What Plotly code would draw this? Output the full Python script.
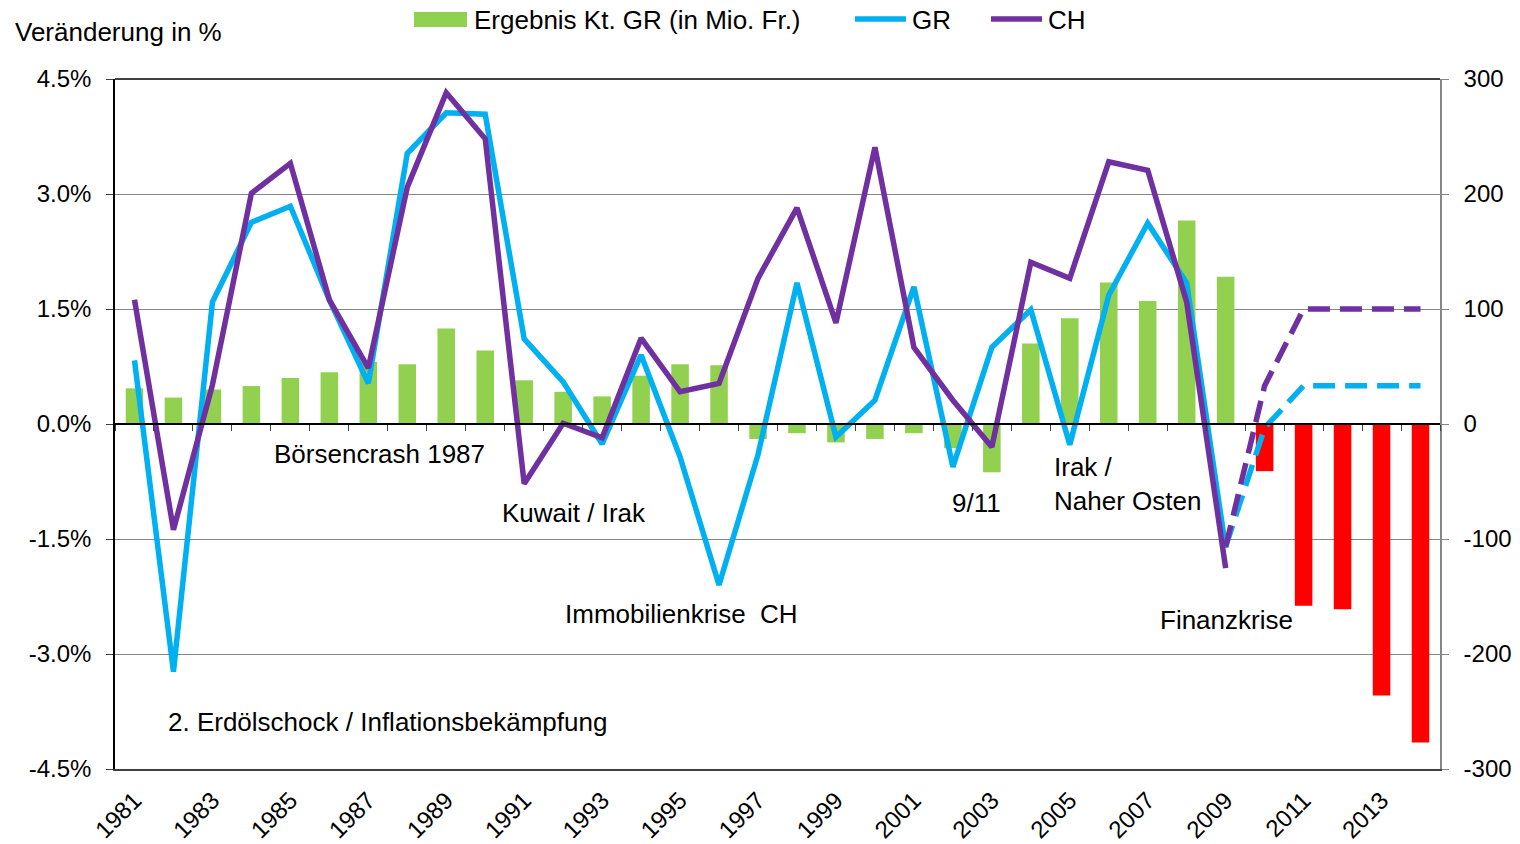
import plotly.graph_objects as go

# ---- data ----
years_hist = list(range(1981, 2010))
years_fc = list(range(2009, 2015))
years_bar_fc = list(range(2010, 2015))

ergebnis = [31, 23, 30, 33, 40, 45, 54, 52, 83, 64, 38, 28, 24, 42, 52, 51,
            -13, -8, -16, -13, -8, -21, -42, 70, 92, 123, 107, 177, 128]
ergebnis_fc = [-41, -158, -161, -236, -277]

gr = [0.83, -3.23, 1.59, 2.63, 2.84, 1.62, 0.53, 3.53, 4.06, 4.04, 1.11, 0.55,
      -0.26, 0.90, -0.43, -2.10, -0.40, 1.84, -0.17, 0.31, 1.79, -0.56, 1.00,
      1.49, -0.27, 1.68, 2.62, 1.84, -1.62]
ch = [1.62, -1.38, 0.51, 3.01, 3.40, 1.62, 0.73, 3.09, 4.32, 3.72, -0.78, 0.01,
      -0.18, 1.12, 0.42, 0.53, 1.90, 2.82, 1.32, 3.61, 1.00, 0.31, -0.30, 2.11,
      1.90, 3.42, 3.31, 1.59, -1.88]
gr_fc = [-1.60, -0.05, 0.50, 0.50, 0.50, 0.50]
ch_fc = [-1.60, 0.50, 1.50, 1.50, 1.50, 1.50]

tick_years = list(range(1981, 2015, 2))
left_ticks = [-4.5, -3.0, -1.5, 0.0, 1.5, 3.0, 4.5]
right_ticks = [-300, -200, -100, 0, 100, 200, 300]

legend_labels = ["Ergebnis Kt. GR (in Mio. Fr.)", "GR", "CH"]

annotations_txt = [
    ("Börsencrash 1987", 1984.53, -0.39),
    ("Kuwait / Irak", 1990.38, -1.16),
    ("Immobilienkrise  CH", 1992.0, -2.48),
    ("2. Erdölschock / Inflationsbekämpfung", 1981.81, -3.89),
    ("9/11", 2001.93, -1.03),
    ("Irak /<br>Naher Osten", 2004.54, -0.78),
    ("Finanzkrise", 2007.26, -2.56),
]

GREEN = "#92D050"
RED = "#FF0000"
BLUE = "#00B0F0"
PURPLE = "#7030A0"
FONT = "Liberation Sans, Arial, sans-serif"

W, H = 1520, 844
ml, mr, mt, mb = 115, 80, 79, 75
pw, ph = W - ml - mr, H - mt - mb


def px(xp):
    return (xp - ml) / pw


def py(yp):
    return 1 - (yp - mt) / ph


fig = go.Figure()

LW = 5.5

# bars on primary y (right side), lines on y2 (left side, drawn above)
fig.add_trace(go.Bar(x=years_hist, y=ergebnis, name=legend_labels[0],
                     marker=dict(color=GREEN, line=dict(width=0)), width=0.45,
                     yaxis="y", xaxis="x", showlegend=False))
fig.add_trace(go.Bar(x=years_bar_fc, y=ergebnis_fc, name="Prognose",
                     marker=dict(color=RED, line=dict(width=0)), width=0.45,
                     showlegend=False, yaxis="y", xaxis="x"))
fig.add_trace(go.Scatter(x=years_hist, y=gr, name=legend_labels[1], mode="lines",
                         line=dict(color=BLUE, width=LW), yaxis="y2", showlegend=False))
fig.add_trace(go.Scatter(x=years_hist, y=ch, name=legend_labels[2], mode="lines",
                         line=dict(color=PURPLE, width=LW), yaxis="y2", showlegend=False))
fig.add_trace(go.Scatter(x=years_fc, y=gr_fc, name="GR Prognose", mode="lines",
                         line=dict(color=BLUE, width=LW, dash="22px,10px"),
                         yaxis="y2", showlegend=False))
fig.add_trace(go.Scatter(x=years_fc, y=ch_fc, name="CH Prognose", mode="lines",
                         line=dict(color=PURPLE, width=LW, dash="22px,10px"),
                         yaxis="y2", showlegend=False))
# helper trace so that the category-tick axis at zero is rendered
fig.add_trace(go.Scatter(x=[None], y=[None], xaxis="x2", yaxis="y2",
                         showlegend=False, hoverinfo="skip"))

annots = []
for txt, xv, yv in annotations_txt:
    annots.append(dict(text=txt, x=xv, y=yv, xref="x", yref="y2",
                       xanchor="left", yanchor="middle", showarrow=False,
                       align="left", font=dict(size=26, color="black", family=FONT)))
annots.append(dict(text="Veränderung in %", x=px(13), y=py(32), xref="paper", yref="paper",
                   showarrow=False, xanchor="left", yanchor="middle",
                   font=dict(size=26, color="black", family=FONT)))

# custom legend (keys drawn in paper space, labels as real text)
shapes = []
shapes.append(dict(type="rect", xref="paper", yref="paper",
                   x0=px(414), x1=px(467), y0=py(27), y1=py(12),
                   fillcolor=GREEN, line=dict(width=0)))
shapes.append(dict(type="line", xref="paper", yref="paper",
                   x0=px(855), x1=px(906), y0=py(19), y1=py(19),
                   line=dict(color=BLUE, width=LW)))
shapes.append(dict(type="line", xref="paper", yref="paper",
                   x0=px(991), x1=px(1042), y0=py(19), y1=py(19),
                   line=dict(color=PURPLE, width=LW)))
for lbl, xp in zip(legend_labels, [472, 910, 1046]):
    annots.append(dict(text=lbl, x=px(xp), y=py(20), xref="paper", yref="paper",
                       showarrow=False, xanchor="left", yanchor="middle",
                       font=dict(size=26, color="black", family=FONT)))

# dark top border line along 4.5% (styling)
shapes.append(dict(type="line", xref="paper", yref="paper", x0=0, x1=1, y0=1, y1=1,
                   line=dict(color="black", width=1.5)))

xr = [1980.5, 2014.5]

fig.update_layout(
    width=W, height=H,
    margin=dict(l=ml, r=mr, t=mt, b=mb, autoexpand=False),
    paper_bgcolor="white", plot_bgcolor="white",
    font=dict(family=FONT, size=24, color="black"),
    barmode="overlay",
    showlegend=False,
    xaxis=dict(range=xr, tickmode="array", tickvals=tick_years,
               ticktext=[str(y) for y in tick_years], tickangle=-45,
               ticks="", showgrid=False, zeroline=False, automargin=False,
               showline=True, linecolor="#404040", linewidth=1.5, mirror=False,
               tickfont=dict(size=24, family=FONT), ticklabelstandoff=6),
    xaxis2=dict(range=xr, overlaying="x", anchor="free", position=0.5,
                tickmode="array", tickvals=[y + 0.5 for y in range(1980, 2015)],
                ticks="outside", ticklen=6, tickcolor="#404040", tickwidth=1,
                showticklabels=False, showgrid=False, zeroline=False,
                showline=True, linecolor="black", linewidth=1.5),
    yaxis=dict(range=[-300, 300], side="right", tickmode="array",
               tickvals=right_ticks, ticktext=[str(v) for v in right_ticks],
               ticks="outside", ticklen=7, automargin=False,
               tickcolor="#868686", showline=True, linecolor="#868686",
               linewidth=1.5, showgrid=True, gridcolor="#868686", gridwidth=1,
               zeroline=False, tickfont=dict(size=24, family=FONT),
               ticklabelstandoff=10),
    yaxis2=dict(range=[-4.5, 4.5], side="left", overlaying="y", anchor="x",
                tickmode="array", tickvals=left_ticks,
                ticktext=[f"{v:.1f}%" for v in left_ticks], automargin=False,
                ticks="outside", ticklen=7, tickcolor="#404040",
                showline=True, linecolor="black", linewidth=1.5,
                showgrid=False, zeroline=False,
                tickfont=dict(size=24, family=FONT), ticklabelstandoff=10),
    annotations=annots,
    shapes=shapes,
)

fig.write_html("out.html", config={"displayModeBar": False},
               post_script="document.body.style.margin='0';document.body.style.overflow='hidden';")
